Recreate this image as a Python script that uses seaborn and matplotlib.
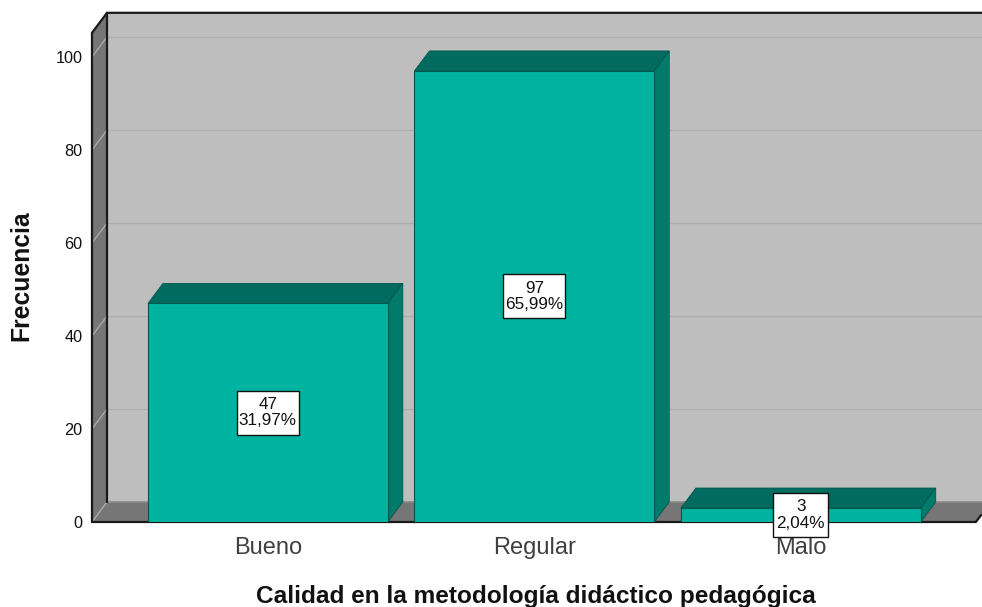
import matplotlib
matplotlib.use("Agg")
import matplotlib.pyplot as plt
from matplotlib.patches import Polygon, Rectangle
import seaborn as sns

categories = ["Bueno", "Regular", "Malo"]
frequencies = [47, 97, 3]
percentages = ["31,97%", "65,99%", "2,04%"]
y_ticks = [0, 20, 40, 60, 80, 100]

FRONT = "#00B3A0"
TOP = "#006B5E"
SIDE = "#007A6B"
WALL = "#BEBEBE"
SHADE = "#767676"
GRID = "#ADADAD"
DARK = "#1A1A1A"

W, H = 982, 607
DX, DY = 0.0563, 4.3  # depth of the fake 3D box, in data units
PX_X, PX_Y = 266.5, 4.65  # pixels per data unit

sns.set_theme(style="white")
plt.rcParams["font.family"] = ["Liberation Sans", "DejaVu Sans"]

fig = plt.figure(figsize=(W / 100, H / 100), dpi=100)
ax = fig.add_axes([92 / W, (H - 522) / H, 890 / W, 509 / H])

sns.barplot(x=categories, y=frequencies, color=FRONT, saturation=1, width=0.9,
            edgecolor="#00574C", linewidth=0.8, ax=ax, zorder=4)

x0, x1 = -0.66, 2.657
ytop = 105.2
ax.set_xlim(-0.66, 2.68)
ax.set_ylim(0, 109.46)


def face(points, color, edge=None, lw=0.0, z=1):
    ax.add_patch(Polygon(points, closed=True, facecolor=color, edgecolor=edge or color,
                         linewidth=lw, zorder=z, clip_on=False))


# back wall, floor and left wall
face([(x0 + DX, DY), (2.75, DY), (2.75, ytop + DY), (x0 + DX, ytop + DY)], WALL, z=1)
face([(x0, 0), (x1, 0), (x1 + DX, DY), (x0 + DX, DY)], SHADE, z=1.5)
face([(x0, 0), (x0 + DX, DY), (x0 + DX, ytop + DY), (x0, ytop)], SHADE, z=1.5)

for t in y_ticks[1:]:
    ax.plot([x0 + DX, 2.75], [t + DY, t + DY], color=GRID, lw=0.9, zorder=1.2, clip_on=False)
for t in y_ticks:
    ax.plot([x0, x0 + DX], [t, t + DY], color=GRID, lw=0.9, zorder=1.7, clip_on=False)

# box outline
ax.plot([x0, x0, x0 + DX, 2.75], [0, ytop, ytop + DY, ytop + DY], color=DARK, lw=1.6,
        zorder=2, clip_on=False, solid_joinstyle="miter")
ax.plot([x0 + DX, x0 + DX], [DY, ytop + DY], color=DARK, lw=1.6, zorder=2, clip_on=False)
ax.plot([x0 + DX, 2.75], [DY, DY], color="#8A8A8A", lw=1.2, zorder=1.6, clip_on=False)
ax.plot([x0, x1, x1 + 0.02], [0, 0, DY * 0.35], color=DARK, lw=1.6, zorder=2, clip_on=False)

# 3D faces of each bar, taken from the bars seaborn drew
for bar in list(ax.patches):
    if bar.get_zorder() != 4:
        continue
    left, right = bar.get_x(), bar.get_x() + bar.get_width()
    h = bar.get_height()
    face([(left, h), (right, h), (right + DX, h + DY), (left + DX, h + DY)], TOP,
         edge="#00574C", lw=0.6, z=3.5)
    face([(right, 0), (right + DX, DY), (right + DX, h + DY), (right, h)], SIDE,
         edge="#00574C", lw=0.6, z=3.5)

# value boxes, sized to match SPSS labels
for i, (n, pct) in enumerate(zip(frequencies, percentages)):
    bw = (62 if len(pct) == 6 else 55) / PX_X
    bh = 44 / PX_Y
    ax.add_patch(Rectangle((i - bw / 2, n / 2 - bh / 2), bw, bh, facecolor="white",
                           edgecolor="#111111", linewidth=1.0, zorder=9, clip_on=False))
    ax.text(i, n / 2, f"{n}\n{pct}", ha="center", va="center", ma="center", fontsize=12.3,
            color="#111111", linespacing=1.1, zorder=10)

ax.set_yticks(y_ticks)
ax.tick_params(axis="y", length=0, pad=7, labelsize=11.7, labelcolor="#111111")
ax.tick_params(axis="x", length=0, pad=11, labelsize=17, labelcolor="#404040")

ax.set_xlabel("Calidad en la metodología didáctico pedagógica", fontsize=17.6, fontweight="bold", color="#111111")
ax.set_ylabel("Frecuencia", fontsize=17.8, fontweight="bold", color="#111111")
ax.xaxis.set_label_coords((535.5 - 92) / 890, -(597 - 522) / 509, transform=ax.transAxes)
ax.xaxis.label.set_va("center")
ax.yaxis.set_label_coords((21 - 92) / 890, (522 - 276) / 509, transform=ax.transAxes)
ax.yaxis.label.set_va("center")

sns.despine(ax=ax, left=True, bottom=True)
fig.savefig("out.png", dpi=100)
